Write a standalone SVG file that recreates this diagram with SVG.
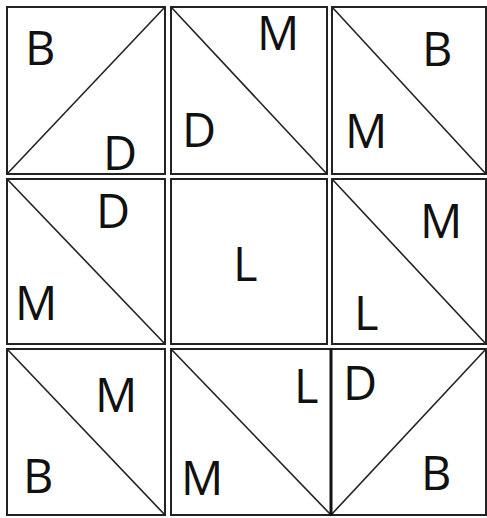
<svg xmlns="http://www.w3.org/2000/svg" width="487" height="518" viewBox="0 0 487 518">
<style>
.box{fill:none;stroke:#222;stroke-width:2}
.diag{stroke:#222;stroke-width:1.6}
.thick{stroke:#111;stroke-width:3}
text{font-family:"Open Sans","Liberation Sans",sans-serif;font-size:47px;fill:#111}
</style>
<rect width="487" height="518" fill="#fff"/>
<g id="t1"><rect class="box" x="7" y="7" width="158" height="167"/><text x="25" y="65">B</text><text x="103" y="170">D</text></g>
<g id="t2"><rect class="box" x="171" y="7" width="156" height="167"/><text x="257" y="50">M</text><text x="182" y="147">D</text></g>
<g id="t3"><rect class="box" x="332" y="7" width="154" height="167"/><text x="422" y="66">B</text><text x="345" y="148">M</text></g>
<g id="t4"><rect class="box" x="7" y="179" width="158" height="165"/><text x="96" y="228">D</text><text x="15" y="320">M</text></g>
<g id="t5"><rect class="box" x="171" y="179" width="156" height="165"/><text x="233" y="281">L</text></g>
<g id="t6"><rect class="box" x="332" y="179" width="154" height="165"/><text x="420" y="238">M</text><text x="354" y="330">L</text></g>
<g id="t7"><rect class="box" x="7" y="349" width="158" height="166"/><text x="95" y="412">M</text><text x="23" y="493">B</text></g>
<g id="t8"><rect class="box" x="171" y="349" width="160" height="166"/><text x="294" y="403">L</text><text x="181" y="495">M</text></g>
<g id="t9"><rect class="box" x="331" y="349" width="155" height="166"/><text x="343" y="400">D</text><text x="421" y="490">B</text></g>
<g id="connectors">
<line class="diag" x1="7" y1="174" x2="165" y2="7"/>
<line class="diag" x1="171" y1="7" x2="327" y2="174"/>
<line class="diag" x1="332" y1="7" x2="486" y2="174"/>
<line class="diag" x1="7" y1="179" x2="165" y2="344"/>
<line class="diag" x1="332" y1="179" x2="486" y2="344"/>
<line class="diag" x1="7" y1="349" x2="165" y2="515"/>
<line class="diag" x1="171" y1="349" x2="331" y2="515"/>
<line class="diag" x1="331" y1="515" x2="486" y2="349"/>
<line class="thick" x1="331" y1="349" x2="331" y2="516"/>
</g>
</svg>
